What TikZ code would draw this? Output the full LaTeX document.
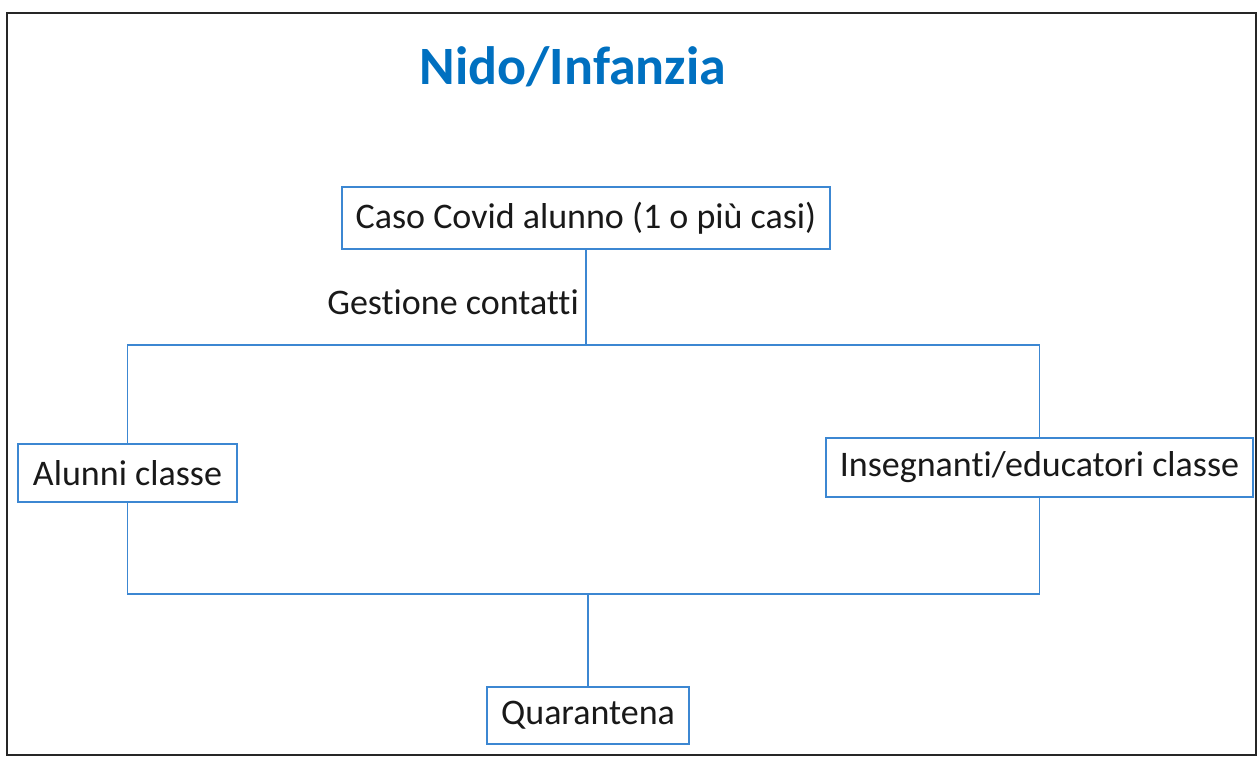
\documentclass[tikz,border=0pt]{standalone}
\usepackage{fontspec}
\setmainfont[Ligatures={NoCommon}]{Carlito}
\definecolor{titleblue}{RGB}{0,112,192}
\definecolor{lineblue}{RGB}{60,135,210}
\begin{document}
\begin{tikzpicture}[x=1pt,y=-1pt,
  box/.style={draw=lineblue,line width=1.8pt,fill=white,inner sep=0pt,
    font=\fontsize{36}{43}\selectfont,text=black!90},
  conn/.style={draw=lineblue,line width=1.6pt},
  lbl/.style={font=\fontsize{36}{43}\selectfont,text=black!90,inner sep=0pt}]
\useasboundingbox (0,0) rectangle (1260,760);
\draw[line width=2.2pt,black!85] (7,13) rectangle (1256,755);
\node[font=\bfseries\fontsize{54}{64}\selectfont,text=titleblue] (title) at (573,67) {Nido/Infanzia};
\node[box,minimum width=488pt,minimum height=62pt] (c) at (586,218) {Caso Covid alunno (1 o più casi)};
\node[box,minimum width=219pt,minimum height=58pt] (a) at (127.5,473) {Alunni classe};
\node[box,minimum width=427pt,minimum height=59pt] (i) at (1039.5,467.5) {Insegnanti/educatori classe};
\node[box,minimum width=202pt,minimum height=57pt] (q) at (588,715.5) {Quarantena};
\coordinate (j1) at (586,345);
\coordinate (j2) at (588,594);
\draw[conn] (c.south) -- (j1);
\draw[conn] (a.north) |- (j1) -| (i.north);
\draw[conn] (a.south) |- (j2) -| (i.south);
\draw[conn] (j2) -- (q.north);
\node[lbl,anchor=east] (g) at (579,302) {Gestione contatti};
\end{tikzpicture}
\end{document}
